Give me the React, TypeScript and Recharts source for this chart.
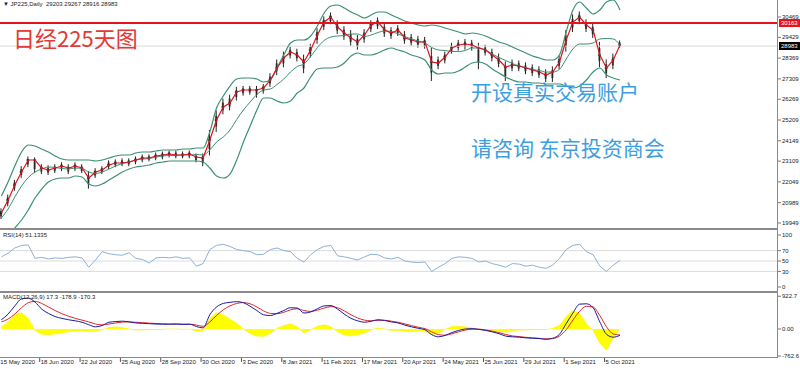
import React from 'react';
import { ComposedChart, Bar, Line, Area, XAxis, YAxis, ReferenceLine } from 'recharts';

// x-axis date labels, one every 6 points (each point = ~4 trading days)
const dateLabels = [
  '15 May 2020', '18 Jun 2020', '22 Jul 2020', '25 Aug 2020', '28 Sep 2020', '30 Oct 2020',
  '3 Dec 2020', '8 Jan 2021', '11 Feb 2021', '17 Mar 2021', '20 Apr 2021', '24 May 2021',
  '25 Jun 2021', '29 Jul 2021', '1 Sep 2021', '5 Oct 2021',
];

const closes = [
  20459, 21123, 21889, 22553, 23166, 23166, 22757, 22655, 22757, 22859,
  22757, 22859, 22757, 22246, 22553, 22655, 22911, 23013, 23013, 23064,
  23166, 23268, 23268, 23370, 23421, 23472, 23421, 23421, 23472, 23319,
  23268, 24187, 25209, 25873, 26077, 26639, 26741, 26741, 26741, 26843,
  27251, 27864, 28375, 28681, 28528, 28170, 28784, 29550, 30213, 30469,
  29958, 29652, 29396, 29192, 29550, 30060, 30213, 29805, 29652, 29805,
  29396, 29294, 29192, 29192, 28170, 28120, 28426, 28886, 29039, 29090,
  29039, 28886, 28784, 28528, 28273, 27915, 28017, 27966, 27864, 27762,
  27660, 27507, 27660, 28170, 29294, 30213, 30469, 30060, 29805, 28528,
  27864, 28273, 29039,
];
const highs = [
  20700, 21400, 22150, 22850, 23350, 23300, 22950, 22900, 22950, 23050,
  22950, 23050, 22950, 22600, 22750, 22850, 23150, 23200, 23250, 23250,
  23350, 23450, 23450, 23550, 23600, 23650, 23650, 23600, 23650, 23500,
  23500, 24700, 25700, 26300, 26500, 26900, 26950, 26950, 26950, 27050,
  27600, 28300, 28700, 28950, 28850, 28550, 29100, 29900, 30500, 30700,
  30300, 30000, 29800, 29550, 29850, 30300, 30450, 30150, 29950, 30050,
  29750, 29600, 29500, 29450, 28900, 28450, 28700, 29150, 29300, 29350,
  29300, 29150, 29050, 28850, 28600, 28200, 28300, 28250, 28150, 28050,
  27950, 27800, 27950, 28500, 29800, 30600, 30750, 30350, 30150, 29200,
  28300, 28600, 29270,
];
const lows = [
  20150, 20800, 21600, 22250, 22800, 22500, 22450, 22400, 22500, 22600,
  22450, 22600, 22500, 21700, 22250, 22450, 22700, 22800, 22850, 22850,
  22950, 23050, 23100, 23150, 23200, 23300, 23250, 23250, 23250, 23050,
  22850, 23400, 24600, 25500, 25700, 26200, 26450, 26500, 26350, 26550,
  26900, 27500, 27900, 28350, 28200, 27600, 28400, 29100, 29800, 30100,
  29600, 29300, 29000, 28800, 29150, 29700, 29850, 29450, 29350, 29500,
  29100, 29000, 28900, 28850, 27200, 27800, 28100, 28600, 28750, 28800,
  28750, 27800, 28500, 28200, 27900, 27200, 27700, 27700, 27550, 27450,
  27350, 27150, 27150, 27800, 28700, 29700, 30100, 29700, 29400, 27900,
  27350, 27800, 28900,
];
const upperBand = [
  21327, 22042, 22859, 23574, 23932, 23881, 23728, 23574, 23370, 23217,
  23166, 23166, 23166, 23166, 23115, 23166, 23268, 23370, 23421, 23421,
  23523, 23574, 23574, 23625, 23676, 23676, 23676, 23728, 23728, 23779,
  23779, 24596, 25821, 26434, 26945, 27302, 27354, 27354, 27302, 27149,
  27251, 27864, 28528, 29141, 29294, 29294, 29498, 30009, 30673, 31031,
  31082, 30928, 30724, 30571, 30418, 30571, 30724, 30724, 30571, 30418,
  30265, 30162, 30060, 30009, 30060, 30009, 29907, 29805, 29703, 29601,
  29652, 29601, 29498, 29345, 29192, 29090, 28937, 28783, 28630, 28477,
  28375, 28273, 28273, 28528, 29703, 30826, 31235, 30928, 30622, 30826,
  31235, 31337, 30826,
];
const middleBand = [
  20204, 20663, 21276, 21838, 22272, 22553, 22707, 22808, 22783, 22732,
  22707, 22758, 22732, 22553, 22477, 22553, 22706, 22860, 22987, 23064,
  23166, 23217, 23242, 23319, 23370, 23396, 23396, 23422, 23422, 23447,
  23422, 23677, 24085, 24341, 24698, 25234, 25720, 26128, 26511, 26741,
  26792, 27022, 27303, 27660, 27941, 28069, 28452, 28911, 29269, 29448,
  29499, 29524, 29601, 29601, 29473, 29550, 29677, 29754, 29729, 29601,
  29473, 29345, 29243, 29141, 28911, 28784, 28758, 28707, 28707, 28758,
  28886, 28886, 28784, 28579, 28401, 28248, 28094, 27966, 27890, 27788,
  27737, 27660, 27660, 27788, 28324, 28835, 29090, 29090, 29141, 29345,
  29371, 29346, 29039,
];
const lowerBand = [
  19080, 19284, 19693, 20102, 20612, 21225, 21685, 22042, 22195, 22247,
  22247, 22349, 22298, 21940, 21838, 21940, 22144, 22349, 22553, 22706,
  22808, 22859, 22910, 23013, 23064, 23115, 23115, 23115, 23115, 23115,
  23064, 22757, 22349, 22247, 22451, 23166, 24085, 24902, 25719, 26332,
  26332, 26179, 26077, 26179, 26587, 26843, 27405, 27813, 27864, 27864,
  27915, 28120, 28477, 28630, 28528, 28528, 28630, 28783, 28886, 28783,
  28681, 28528, 28426, 28273, 27762, 27558, 27609, 27609, 27711, 27915,
  28120, 28170, 28069, 27813, 27609, 27405, 27251, 27149, 27149, 27098,
  27098, 27047, 27047, 27047, 26945, 26843, 26945, 27251, 27660, 27864,
  27507, 27354, 27251,
];
const rsi = [
  58, 65, 75, 80, 81, 55, 57, 54, 56, 55,
  57, 58, 56, 38, 52, 68, 64, 62, 61, 66,
  55, 53, 46, 56, 57, 56, 58, 55, 56, 40,
  45, 72, 80, 82, 78, 72, 70, 68, 62, 63,
  72, 75, 70, 68, 55, 48, 62, 72, 78, 80,
  60, 58, 55, 52, 58, 63, 62, 56, 54, 57,
  50, 48, 47, 48, 30, 38, 45, 55, 58, 57,
  55, 48, 50, 45, 42, 38, 45, 44, 40, 42,
  38, 36, 42, 55, 72, 80, 82, 68, 62, 40,
  30, 42, 51,
];
const macdMain = [
  260, 420, 650, 850, 870, 760, 560, 440, 350, 300,
  260, 230, 190, 120, 60, 100, 190, 210, 220, 200,
  170, 160, 150, 140, 135, 135, 140, 130, 135, 70,
  30, 400, 620, 720, 750, 770, 740, 640, 520, 400,
  380, 440, 520, 600, 590, 450, 480, 570, 650, 660,
  560, 420, 300, 230, 190, 220, 260, 240, 200, 170,
  110, 60, 20, -20, -160, -220, -180, -100, -40, 0,
  10, -10, -40, -80, -130, -200, -220, -230, -250, -260,
  -270, -290, -260, -150, 150, 450, 700, 710, 600, 200,
  -150, -230, -179,
];
const macdSignal = [
  200, 280, 420, 600, 740, 780, 720, 620, 520, 430,
  360, 300, 250, 200, 140, 115, 140, 170, 195, 200,
  190, 178, 165, 155, 145, 140, 140, 135, 135, 110,
  75, 200, 380, 540, 650, 720, 745, 710, 620, 510,
  440, 430, 470, 540, 570, 520, 495, 530, 590, 630,
  600, 510, 400, 310, 250, 230, 245, 245, 220, 190,
  145, 95, 50, 10, -80, -160, -175, -135, -80, -30,
  -5, -5, -25, -60, -100, -155, -195, -215, -235, -250,
  -262, -280, -270, -200, -20, 250, 500, 640, 620, 380,
  60, -140, -170,
];
const macdHist = [
  60, 200, 400, 460, 300, -40, -150, -160, -140, -110,
  -80, -60, -50, -70, -60, -20, 40, 60, 40, 0,
  -30, -30, -20, -20, -10, 0, 0, -10, 0, -60,
  -60, 300, 460, 400, 280, 160, 0, -130, -200, -210,
  -120, 20, 100, 150, 60, -120, -20, 80, 120, 60,
  -80, -170, -200, -160, -120, -20, 30, 0, -40, -40,
  -70, -70, -60, -60, -160, -120, -10, 70, 80, 60,
  30, -10, -30, -40, -60, -90, -50, -30, -30, -20,
  -15, -20, 20, 100, 350, 520, 440, 150, -40, -400,
  -600, -250, 17,
];

const priceTicks = [30469, 29429, 28369, 27309, 26269, 25209, 24149, 23109, 22049, 20989, 19949];
const rsiTicks = [100, 70, 50, 30, 0];
const macdTicks = [922.7, 0, -762.6];

const resistance = 30163;
const lastPrice = 28983;

// chart keeps empty slots on the right, like the terminal's chart shift
const SLOTS = 116;
const rows = Array.from({ length: SLOTS }, (_, i) =>
  i < closes.length
    ? {
        i,
        close: closes[i],
        high: highs[i],
        low: lows[i],
        upper: upperBand[i],
        middle: middleBand[i],
        lower: lowerBand[i],
        rsi: rsi[i],
        main: macdMain[i],
        signal: macdSignal[i],
        hist: macdHist[i],
      }
    : { i }
);
const dateTicks = dateLabels.map((_, k) => k * 6);

const axisFont = 'Liberation Sans, Arial, sans-serif';
const GREEN = '#3a9070';
const BORDER = '#8a8a8a';
const MARGIN = { top: 0, right: 0, bottom: 0, left: -2 };

function Candle(props: any) {
  const { x, y, width, height, payload } = props;
  if (payload == null || payload.high == null) return null;
  const cx = x + width / 2;
  const span = payload.high - payload.low;
  const yc = y + ((payload.high - payload.close) / span) * height;
  return (
    <g>
      <rect x={cx - 1} y={y + height * 0.25} width={2} height={height * 0.5} fill="#555" />
      <line x1={cx} x2={cx} y1={y} y2={y + height} stroke="#222" strokeWidth={1} />
      <line x1={cx - 1.5} x2={cx + 1.5} y1={yc} y2={yc} stroke="#111" strokeWidth={1} />
    </g>
  );
}

function DateTick(props: any) {
  const { x, y, payload } = props;
  const label = dateLabels[payload.value / 6];
  const tx = x - 2;
  return (
    <g>
      <line x1={tx} x2={tx} y1={y - 9} y2={y - 4} stroke="#555" />
      <text x={tx + 1} y={y - 2} fontSize={6} fill="#222" fontFamily={axisFont} textAnchor="start">
        {label}
      </text>
    </g>
  );
}

const yTick = { fontSize: 6, fill: '#222', fontFamily: axisFont };

export default function App() {
  return (
    <div style={{ position: 'absolute', left: 0, top: 0, width: 800, height: 369, background: '#fff', overflow: 'hidden' }}>
      {/* main price window */}
      <div style={{ position: 'absolute', left: 0, top: 0 }}>
        <ComposedChart width={800} height={229} data={rows} margin={MARGIN}>
          <XAxis dataKey="i" type="category" scale="band" hide />
          <YAxis
            orientation="right"
            width={22}
            domain={[19643, 31337]}
            allowDataOverflow
            ticks={priceTicks}
            interval={0}
            tick={yTick}
            tickSize={3}
            tickMargin={1}
            axisLine={false}
            tickLine={{ stroke: '#777' }}
          />
          <ReferenceLine y={lastPrice} stroke="#d8d8d8" strokeWidth={1} />
          <Line dataKey="upper" type="monotone" stroke={GREEN} strokeWidth={1.2} dot={false} activeDot={false} isAnimationActive={false} />
          <Line dataKey="middle" type="monotone" stroke={GREEN} strokeWidth={1} dot={false} activeDot={false} isAnimationActive={false} />
          <Line dataKey="lower" type="monotone" stroke={GREEN} strokeWidth={1.2} dot={false} activeDot={false} isAnimationActive={false} />
          <Bar dataKey={(d: any) => (d.high != null ? [d.low, d.high] : null)} barSize={4} shape={<Candle />} activeBar={false} isAnimationActive={false} />
          <Line dataKey="close" type="linear" stroke="#e0141e" strokeWidth={1.2} dot={false} activeDot={false} isAnimationActive={false} />
          <ReferenceLine y={resistance} stroke="#e8141c" strokeWidth={2} />
        </ComposedChart>
      </div>

      {/* RSI window */}
      <div style={{ position: 'absolute', left: 0, top: 230 }}>
        <ComposedChart width={800} height={62} data={rows} margin={MARGIN}>
          <XAxis dataKey="i" type="category" scale="band" hide />
          <YAxis
            orientation="right"
            width={22}
            domain={[-9.6, 109.6]}
            ticks={rsiTicks}
            interval={0}
            tick={yTick}
            tickSize={3}
            tickMargin={1}
            axisLine={false}
            tickLine={{ stroke: '#777' }}
          />
          <ReferenceLine y={70} stroke="#dcdcdc" />
          <ReferenceLine y={50} stroke="#dcdcdc" />
          <ReferenceLine y={30} stroke="#dcdcdc" />
          <Line dataKey="rsi" type="linear" stroke="#8fb0d6" strokeWidth={1} dot={false} activeDot={false} isAnimationActive={false} />
        </ComposedChart>
      </div>

      {/* MACD window with the date axis */}
      <div style={{ position: 'absolute', left: 0, top: 293 }}>
        <ComposedChart width={800} height={76} data={rows} margin={MARGIN}>
          <XAxis
            dataKey="i"
            type="category"
            scale="band"
            height={11}
            ticks={dateTicks}
            interval={0}
            tick={<DateTick />}
            tickLine={false}
            axisLine={false}
          />
          <YAxis
            orientation="right"
            width={22}
            domain={[-817, 1014]}
            ticks={macdTicks}
            interval={0}
            tickFormatter={(v: number) => (v === 0 ? '0.00' : String(v))}
            tick={yTick}
            tickSize={3}
            tickMargin={1}
            axisLine={false}
            tickLine={{ stroke: '#777' }}
          />
          <Area dataKey="hist" type="linear" baseValue={0} fill="#ffff00" fillOpacity={1} stroke="#f4f000" strokeWidth={0.5} activeDot={false} isAnimationActive={false} />
          <Line dataKey="signal" type="monotone" stroke="#e02828" strokeWidth={1} dot={false} activeDot={false} isAnimationActive={false} />
          <Line dataKey="main" type="monotone" stroke="#1a1aa8" strokeWidth={1} dot={false} activeDot={false} isAnimationActive={false} />
        </ComposedChart>
      </div>

      {/* window frames */}
      <div style={{ position: 'absolute', left: 0, top: 228, width: 778, height: 2, background: BORDER }} />
      <div style={{ position: 'absolute', left: 0, top: 291, width: 778, height: 2, background: BORDER }} />
      <div style={{ position: 'absolute', left: 0, top: 357, width: 778, height: 1, background: BORDER }} />
      <div style={{ position: 'absolute', left: 777, top: 0, width: 1, height: 358, background: BORDER }} />

      {/* price labels on the scale */}
      <div style={{ position: 'absolute', left: 779, top: 19, width: 21, height: 8, background: '#e8141c', color: '#fff', fontSize: 6, lineHeight: '8px', fontFamily: axisFont, paddingLeft: 2, boxSizing: 'border-box' }}>
        {resistance}
      </div>
      <div style={{ position: 'absolute', left: 779, top: 42, width: 21, height: 8, background: '#000', color: '#fff', fontSize: 6, lineHeight: '8px', fontFamily: axisFont, paddingLeft: 2, boxSizing: 'border-box' }}>
        {lastPrice}
      </div>

      {/* window captions */}
      <div style={{ position: 'absolute', left: 3, top: 1, fontSize: 6, fontFamily: axisFont, color: '#222', whiteSpace: 'pre' }}>
        {'▼ JP225,Daily  29203 29267 28916 28983'}
      </div>
      <div style={{ position: 'absolute', left: 3, top: 232, fontSize: 6, fontFamily: axisFont, color: '#222' }}>RSI(14) 51.1335</div>
      <div style={{ position: 'absolute', left: 3, top: 294, fontSize: 6, fontFamily: axisFont, color: '#222' }}>MACD(12,26,9) 17.3 -178.9 -170.3</div>

      {/* overlaid text */}
      <div style={{ position: 'absolute', left: 13, top: 26, fontSize: 22, lineHeight: 1, color: '#e23a36', fontFamily: 'Noto Sans CJK SC, sans-serif' }}>日经225天图</div>
      <div style={{ position: 'absolute', left: 471, top: 81, fontSize: 21, lineHeight: 1, color: '#3d9ee0', fontFamily: 'Noto Sans CJK SC, sans-serif' }}>开设真实交易账户</div>
      <div style={{ position: 'absolute', left: 471, top: 137, fontSize: 21, lineHeight: 1, color: '#3d9ee0', fontFamily: 'Noto Sans CJK SC, sans-serif', whiteSpace: 'pre' }}>请咨询 东京投资商会</div>
    </div>
  );
}
